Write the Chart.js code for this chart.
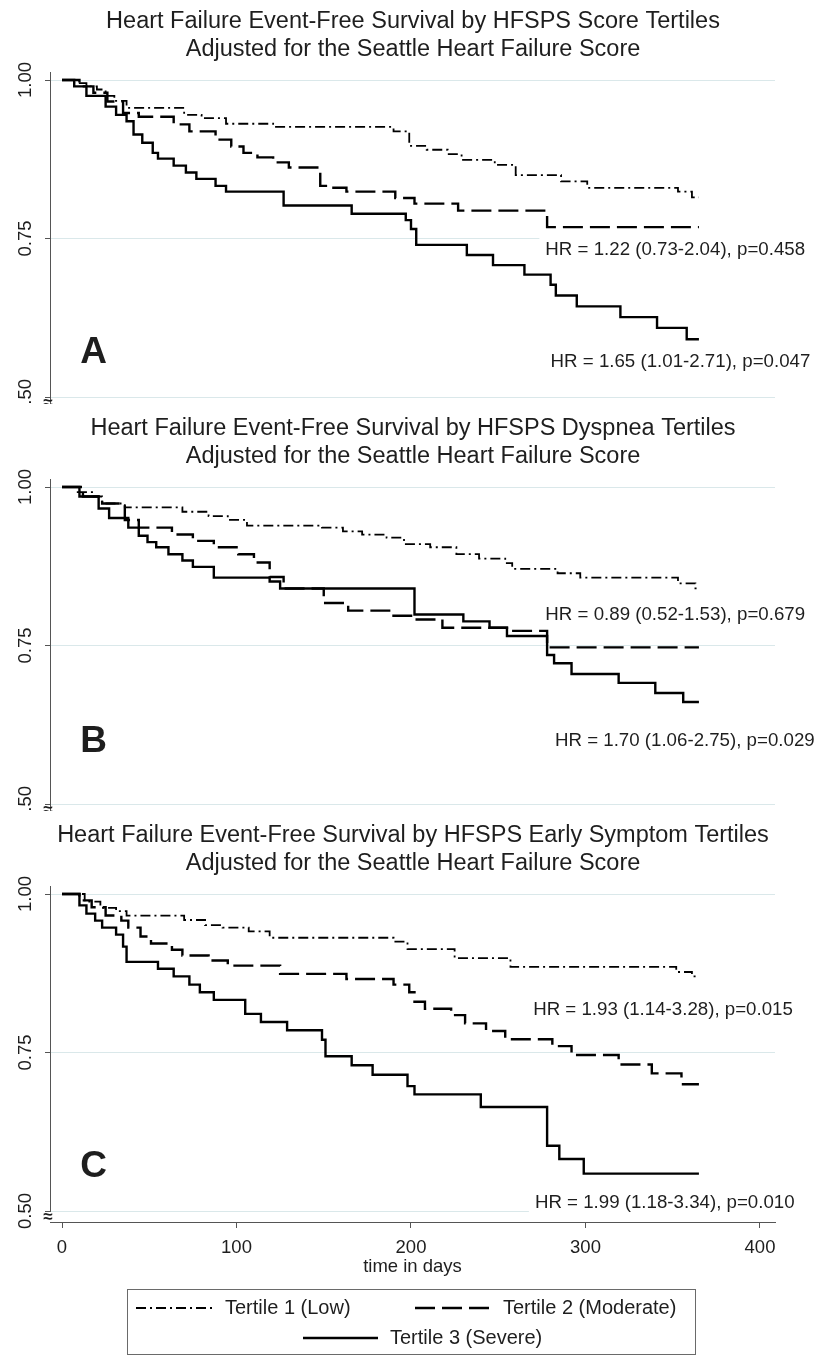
<!DOCTYPE html>
<html>
<head>
<meta charset="utf-8">
<title>HFSPS tertiles - event-free survival</title>
<script src="https://cdn.jsdelivr.net/npm/chart.js@4.4.1/dist/chart.umd.min.js"></script>
<style>
  html, body { margin: 0; padding: 0; background: #fff; }
  #wrap { position: relative; width: 828px; height: 1355px; overflow: hidden; }
  canvas { position: absolute; left: 0; }
</style>
</head>
<body>
<div id="wrap">
  <canvas id="chartA" width="828" height="404" style="top:0px"></canvas>
  <canvas id="chartB" width="828" height="404" style="top:407px"></canvas>
  <canvas id="chartC" width="828" height="541" style="top:814px"></canvas>
</div>
<script>
const etiquetas = ['Tertile 1 (Low)', 'Tertile 2 (Moderate)', 'Tertile 3 (Severe)'];
const yTicks = [0.50, 0.75, 1.00];
const xTicks = [0, 100, 200, 300, 400];

// Panel A - HFSPS Score
const diasA1 = [0, 7, 14, 20, 25, 30, 37, 70, 80, 94, 121, 190, 199, 209, 221, 229, 248, 260, 286, 301, 353, 361, 365];
const survA1 = [1.00, 0.995, 0.99, 0.985, 0.975, 0.967, 0.956, 0.945, 0.94, 0.931, 0.926, 0.919, 0.896, 0.89, 0.883, 0.874, 0.866, 0.85, 0.84, 0.83, 0.824, 0.815, 0.815];
const diasA2 = [0, 10, 18, 26, 35, 44, 64, 73, 88, 97, 104, 112, 121, 130, 148, 152, 163, 191, 202, 227, 278, 365];
const survA2 = [1.00, 0.99, 0.98, 0.966, 0.948, 0.942, 0.93, 0.919, 0.906, 0.895, 0.885, 0.878, 0.87, 0.862, 0.833, 0.83, 0.824, 0.814, 0.805, 0.794, 0.768, 0.768];
const diasA3 = [0, 7, 14, 25, 31, 37, 41, 46, 52, 55, 64, 71, 77, 88, 94, 127, 166, 197, 200, 203, 232, 247, 265, 280, 283, 295, 320, 341, 358, 365];
const survA3 = [1.00, 0.99, 0.975, 0.958, 0.945, 0.935, 0.914, 0.901, 0.885, 0.876, 0.865, 0.854, 0.844, 0.833, 0.824, 0.802, 0.789, 0.779, 0.765, 0.74, 0.724, 0.708, 0.693, 0.677, 0.66, 0.643, 0.626, 0.609, 0.591, 0.591];

// Panel B - HFSPS Dyspnea
const diasB1 = [0, 9, 18, 23, 36, 69, 84, 95, 106, 149, 161, 172, 186, 196, 211, 226, 239, 254, 258, 284, 297, 353, 363, 365];
const survB1 = [1.00, 0.992, 0.985, 0.974, 0.968, 0.961, 0.954, 0.948, 0.939, 0.936, 0.93, 0.925, 0.92, 0.91, 0.905, 0.894, 0.887, 0.88, 0.871, 0.864, 0.857, 0.848, 0.84, 0.84];
const diasB2 = [0, 12, 23, 36, 44, 63, 75, 87, 101, 110, 119, 127, 150, 164, 189, 201, 218, 255, 278, 365];
const survB2 = [1.00, 0.985, 0.974, 0.948, 0.936, 0.925, 0.915, 0.905, 0.894, 0.881, 0.858, 0.84, 0.817, 0.805, 0.797, 0.791, 0.778, 0.773, 0.747, 0.747];
const diasB3 = [0, 10, 21, 27, 38, 44, 49, 54, 61, 69, 75, 87, 119, 125, 202, 230, 245, 255, 278, 282, 292, 319, 340, 356, 365];
const survB3 = [1.00, 0.985, 0.966, 0.951, 0.936, 0.923, 0.913, 0.905, 0.894, 0.884, 0.874, 0.857, 0.851, 0.84, 0.799, 0.788, 0.778, 0.765, 0.735, 0.722, 0.705, 0.691, 0.675, 0.661, 0.661];

// Panel C - HFSPS Early Symptom
const diasC1 = [0, 13, 22, 31, 37, 70, 82, 92, 107, 119, 190, 198, 225, 257, 352, 361, 365];
const survC1 = [1.00, 0.988, 0.978, 0.973, 0.966, 0.959, 0.951, 0.947, 0.941, 0.931, 0.925, 0.913, 0.899, 0.885, 0.877, 0.87, 0.87];
const diasC2 = [0, 10, 17, 25, 34, 38, 45, 51, 63, 69, 84, 95, 125, 163, 190, 199, 202, 208, 223, 231, 243, 254, 281, 292, 319, 338, 355, 365];
const survC2 = [1.00, 0.99, 0.979, 0.966, 0.958, 0.947, 0.933, 0.922, 0.912, 0.903, 0.895, 0.887, 0.874, 0.866, 0.857, 0.845, 0.83, 0.819, 0.809, 0.796, 0.784, 0.771, 0.76, 0.746, 0.731, 0.717, 0.70, 0.70];
const diasC3 = [0, 10, 14, 19, 23, 31, 35, 37, 55, 64, 73, 79, 87, 105, 114, 129, 149, 151, 166, 178, 198, 202, 240, 278, 285, 299, 365];
const survC3 = [1.00, 0.982, 0.969, 0.958, 0.947, 0.936, 0.917, 0.893, 0.882, 0.87, 0.857, 0.845, 0.833, 0.811, 0.798, 0.785, 0.77, 0.744, 0.73, 0.715, 0.697, 0.684, 0.664, 0.603, 0.582, 0.559, 0.559];

const titulosA = ['Heart Failure Event-Free Survival by HFSPS Score Tertiles', 'Adjusted for the Seattle Heart Failure Score'];
const titulosB = ['Heart Failure Event-Free Survival by HFSPS Dyspnea Tertiles', 'Adjusted for the Seattle Heart Failure Score'];
const titulosC = ['Heart Failure Event-Free Survival by HFSPS Early Symptom Tertiles', 'Adjusted for the Seattle Heart Failure Score'];
const hrA = ['HR = 1.22 (0.73-2.04), p=0.458', 'HR = 1.65 (1.01-2.71), p=0.047'];
const hrB = ['HR = 0.89 (0.52-1.53), p=0.679', 'HR = 1.70 (1.06-2.75), p=0.029'];
const hrC = ['HR = 1.93 (1.14-3.28), p=0.015', 'HR = 1.99 (1.18-3.34), p=0.010'];

const FUENTE = '"Liberation Sans", Arial, Helvetica, sans-serif';
Chart.defaults.font.family = FUENTE;
Chart.defaults.color = '#1e1e1e';

// estilos de cada tertil
const estilos = [
  { borderWidth: 1.8, borderDash: [10, 4, 2, 4] },
  { borderWidth: 2.4, borderDash: [20, 7] },
  { borderWidth: 2.4, borderDash: [] }
];

const puntos = (dias, surv) => dias.map((d, i) => ({ x: d, y: surv[i] }));

// dibuja titulos, etiquetas del eje y, letra del panel, textos HR y leyenda
const kmPanel = {
  id: 'kmPanel',
  beforeDatasetsDraw(chart, args, opts) {
    const { ctx } = chart;
    const sx = chart.scales.x, sy = chart.scales.y;
    ctx.save();
    ctx.font = '18.7px ' + FUENTE;
    ctx.textBaseline = 'middle';
    ctx.textAlign = 'left';
    opts.hr.forEach(h => {
      const px = sx.getPixelForValue(h.x);
      const py = sy.getPixelForValue(h.y);
      const w = ctx.measureText(h.texto).width;
      ctx.fillStyle = '#fff';
      ctx.fillRect(px - 6, py - 12, w + 12, 24);
      ctx.fillStyle = '#1e1e1e';
      ctx.fillText(h.texto, px, py);
    });
    ctx.restore();
  },
  afterDraw(chart, args, opts) {
    const { ctx } = chart;
    const sx = chart.scales.x, sy = chart.scales.y;
    ctx.save();
    ctx.fillStyle = '#1e1e1e';

    // titulo en dos lineas
    ctx.font = '23.5px ' + FUENTE;
    ctx.textAlign = 'center';
    ctx.textBaseline = 'middle';
    opts.titulo.forEach((t, i) => ctx.fillText(t, 413, 22 + i * 28));

    // etiquetas del eje y giradas
    ctx.font = '18.5px ' + FUENTE;
    sy.ticks.forEach(t => {
      const py = sy.getPixelForValue(t.value);
      ctx.save();
      ctx.translate(26, py);
      ctx.rotate(-Math.PI / 2);
      ctx.fillText(t.value.toFixed(2), 0, 0);
      ctx.restore();
    });

    // marca de corte del eje
    const yb = sy.getPixelForValue(0.5) + 6;
    if (opts.eje) {
      ctx.fillStyle = '#fff';
      ctx.fillRect(42, yb - 5, 12, 10);
      ctx.fillStyle = '#1e1e1e';
    }
    ctx.font = 'bold 17px ' + FUENTE;
    ctx.fillText('\u2248', 48, yb);

    // letra del panel
    ctx.font = 'bold 37px ' + FUENTE;
    ctx.textAlign = 'left';
    ctx.fillText(opts.letra.texto, sx.getPixelForValue(opts.letra.x), sy.getPixelForValue(opts.letra.y));

    // leyenda (solo en el ultimo panel)
    if (opts.leyenda) {
      ctx.strokeStyle = '#6a6a6a';
      ctx.lineWidth = 1;
      ctx.strokeRect(127.5, 475.5, 568, 65);
      const items = [
        { x0: 136, x1: 212, tx: 225, y: 494 },
        { x0: 415, x1: 492, tx: 503, y: 494 },
        { x0: 303, x1: 378, tx: 390, y: 524 }
      ];
      ctx.font = '20px ' + FUENTE;
      ctx.textBaseline = 'middle';
      chart.data.datasets.forEach((ds, i) => {
        const it = items[i];
        ctx.save();
        ctx.strokeStyle = ds.borderColor;
        ctx.lineWidth = ds.borderWidth;
        ctx.setLineDash(ds.borderDash);
        ctx.beginPath();
        ctx.moveTo(it.x0, it.y);
        ctx.lineTo(it.x1, it.y);
        ctx.stroke();
        ctx.restore();
        ctx.fillText(ds.label, it.tx, it.y);
      });
    }
    ctx.restore();
  }
};

function crearPanel(id, series, titulo, hr, letra, conEje) {
  const alto = conEje ? 541 : 404;
  const yMax = 1.01262;
  const yMin = yMax - (conEje ? 336 : alto - 72) / 634;
  return new Chart(document.getElementById(id), {
    type: 'line',
    data: {
      datasets: series.map((s, i) => ({
        label: etiquetas[i],
        data: puntos(s[0], s[1]),
        borderColor: '#000',
        borderWidth: estilos[i].borderWidth,
        borderDash: estilos[i].borderDash,
        stepped: true,
        pointRadius: 0,
        fill: false
      }))
    },
    options: {
      responsive: false,
      animation: false,
      events: [],
      layout: { padding: { top: 72, right: 53, left: 0, bottom: conEje ? 67 : 0 } },
      scales: {
        x: {
          type: 'linear',
          min: -6.877,
          max: 408.6,
          display: conEje,
          afterBuildTicks: s => { s.ticks = xTicks.map(v => ({ value: v })); },
          afterFit: s => { s.height = conEje ? 66 : 0; },
          grid: { drawOnChartArea: false, drawTicks: true, tickLength: 6, tickColor: '#555' },
          border: { display: true, color: '#555', width: 1 },
          ticks: { font: { size: 18.5 }, color: '#1e1e1e', padding: 9, maxRotation: 0, autoSkip: false },
          title: { display: true, text: 'time in days', font: { size: 18.5 }, color: '#1e1e1e', padding: { top: 0, bottom: 10 } }
        },
        y: {
          type: 'linear',
          min: yMin,
          max: yMax,
          afterBuildTicks: s => { s.ticks = yTicks.map(v => ({ value: v })); },
          afterFit: s => { s.width = 50; },
          grid: { color: '#dae8ea', lineWidth: 1, drawTicks: true, tickLength: 5, tickColor: '#555' },
          border: { display: true, color: '#555', width: 1 },
          ticks: { display: false }
        }
      },
      plugins: {
        legend: { display: false },
        tooltip: { enabled: false },
        kmPanel: { titulo: titulo, hr: hr, letra: letra, eje: conEje, leyenda: conEje }
      }
    },
    plugins: [kmPanel]
  });
}

crearPanel('chartA',
  [[diasA1, survA1], [diasA2, survA2], [diasA3, survA3]],
  titulosA,
  [{ texto: hrA[0], x: 277, y: 0.732 }, { texto: hrA[1], x: 280, y: 0.555 }],
  { texto: 'A', x: 10.5, y: 0.57 }, false);

crearPanel('chartB',
  [[diasB1, survB1], [diasB2, survB2], [diasB3, survB3]],
  titulosB,
  [{ texto: hrB[0], x: 277, y: 0.798 }, { texto: hrB[1], x: 282.5, y: 0.60 }],
  { texto: 'B', x: 10.5, y: 0.598 }, false);

crearPanel('chartC',
  [[diasC1, survC1], [diasC2, survC2], [diasC3, survC3]],
  titulosC,
  [{ texto: hrC[0], x: 270, y: 0.817 }, { texto: hrC[1], x: 271, y: 0.513 }],
  { texto: 'C', x: 10.5, y: 0.57 }, true);
</script>
</body>
</html>
